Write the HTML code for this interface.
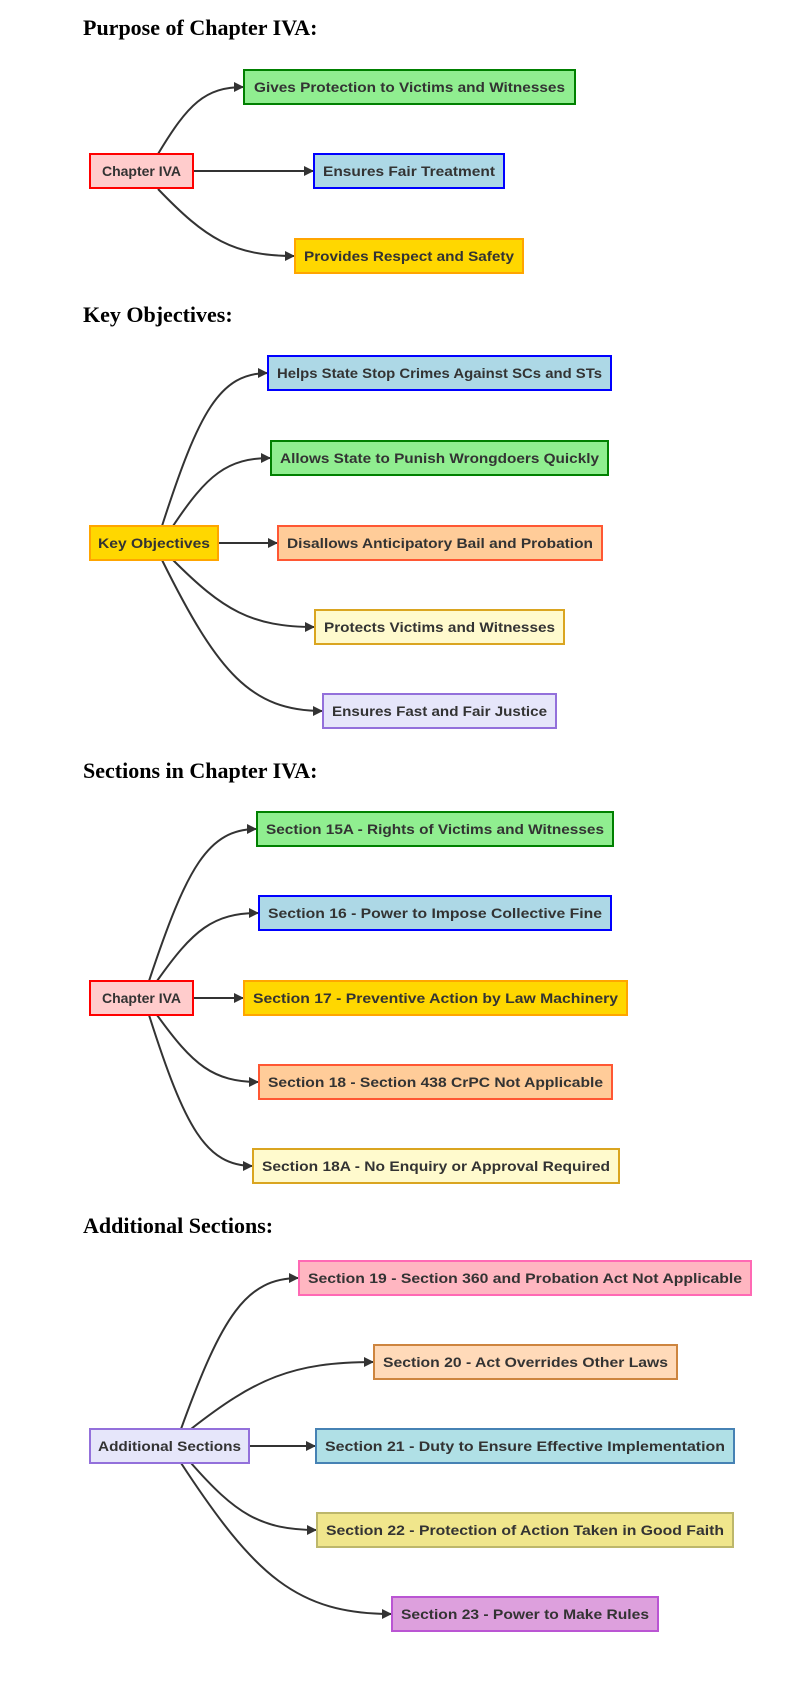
<!DOCTYPE html>
<html><head><meta charset="utf-8"><style>
html,body{margin:0;padding:0;background:#fff;width:796px;height:1685px;overflow:hidden}
svg text.t{font-family:"Liberation Serif",serif;font-weight:bold;font-size:22px;fill:#000}
svg text.n{font-family:"Liberation Sans",sans-serif;font-weight:bold;font-size:14px;fill:#333;text-anchor:middle;dominant-baseline:central}
path.e{fill:none;stroke:#333;stroke-width:2;marker-end:url(#a)}
</style></head><body>
<svg width="796" height="1685" xmlns="http://www.w3.org/2000/svg">
<defs><marker id="a" markerUnits="userSpaceOnUse" markerWidth="10" markerHeight="10" refX="10" refY="5" orient="auto"><path d="M0,0L10,5L0,10z" fill="#333"/></marker></defs>

<text class="t" x="83" y="35">Purpose of Chapter IVA:</text>
<text class="t" x="83" y="322">Key Objectives:</text>
<text class="t" x="83" y="778">Sections in Chapter IVA:</text>
<text class="t" x="83" y="1233">Additional Sections:</text>

<!-- edges -->
<path class="e" d="M158,154 C188,104 205,87 244,87"/>
<path class="e" d="M194,171 L314,171"/>
<path class="e" d="M158,189 C206,239 233,256 295,256"/>

<path class="e" d="M162,526 C199,411 220,373 268,373"/>
<path class="e" d="M173,526 C207,475 227,458 271,458"/>
<path class="e" d="M218,543 L278,543"/>
<path class="e" d="M173,560 C223,610 251,627 315,627"/>
<path class="e" d="M162,560 C218,673 251,711 323,711"/>

<path class="e" d="M149,981 C187,867 208,829 257,829"/>
<path class="e" d="M157,981 C193,930 213,913 259,913"/>
<path class="e" d="M193,998 L244,998"/>
<path class="e" d="M157,1015 C193,1065 213,1082 259,1082"/>
<path class="e" d="M149,1015 C185,1128 206,1166 253,1166"/>

<path class="e" d="M181,1429 C222,1316 246,1278 299,1278"/>
<path class="e" d="M191,1429 C255,1379 292,1362 374,1362"/>
<path class="e" d="M249,1446 L316,1446"/>
<path class="e" d="M191,1463 C235,1513 260,1530 317,1530"/>
<path class="e" d="M181,1463 C255,1576 297,1614 392,1614"/>

<!-- section 1 -->
<rect x="90" y="154" width="103" height="34" fill="#FFCCCC" stroke="#FF0000" stroke-width="2"/><text class="n" x="141.5" y="171">Chapter IVA</text>
<rect x="244" y="70" width="331" height="34" fill="#90EE90" stroke="#008000" stroke-width="2"/><text class="n" x="409.5" y="87" textLength="311" lengthAdjust="spacingAndGlyphs">Gives Protection to Victims and Witnesses</text>
<rect x="314" y="154" width="190" height="34" fill="#ADD8E6" stroke="#0000FF" stroke-width="2"/><text class="n" x="409" y="171" textLength="172" lengthAdjust="spacingAndGlyphs">Ensures Fair Treatment</text>
<rect x="295" y="239" width="228" height="34" fill="#FFD700" stroke="#FFA500" stroke-width="2"/><text class="n" x="409" y="256" textLength="210" lengthAdjust="spacingAndGlyphs">Provides Respect and Safety</text>

<!-- section 2 -->
<rect x="90" y="526" width="128" height="34" fill="#FFD700" stroke="#FFA500" stroke-width="2"/><text class="n" x="154" y="543" textLength="112" lengthAdjust="spacingAndGlyphs">Key Objectives</text>
<rect x="268" y="356" width="343" height="34" fill="#ADD8E6" stroke="#0000FF" stroke-width="2"/><text class="n" x="439.5" y="373" textLength="325" lengthAdjust="spacingAndGlyphs">Helps State Stop Crimes Against SCs and STs</text>
<rect x="271" y="441" width="337" height="34" fill="#90EE90" stroke="#008000" stroke-width="2"/><text class="n" x="439.5" y="458" textLength="319" lengthAdjust="spacingAndGlyphs">Allows State to Punish Wrongdoers Quickly</text>
<rect x="278" y="526" width="324" height="34" fill="#FFCC99" stroke="#FF5733" stroke-width="2"/><text class="n" x="440" y="543" textLength="306" lengthAdjust="spacingAndGlyphs">Disallows Anticipatory Bail and Probation</text>
<rect x="315" y="610" width="249" height="34" fill="#FFFACD" stroke="#DAA520" stroke-width="2"/><text class="n" x="439.5" y="627" textLength="231" lengthAdjust="spacingAndGlyphs">Protects Victims and Witnesses</text>
<rect x="323" y="694" width="233" height="34" fill="#E6E6FA" stroke="#9370DB" stroke-width="2"/><text class="n" x="439.5" y="711" textLength="215" lengthAdjust="spacingAndGlyphs">Ensures Fast and Fair Justice</text>

<!-- section 3 -->
<rect x="90" y="981" width="103" height="34" fill="#FFCCCC" stroke="#FF0000" stroke-width="2"/><text class="n" x="141.5" y="998">Chapter IVA</text>
<rect x="257" y="812" width="356" height="34" fill="#90EE90" stroke="#008000" stroke-width="2"/><text class="n" x="435" y="829" textLength="338" lengthAdjust="spacingAndGlyphs">Section 15A - Rights of Victims and Witnesses</text>
<rect x="259" y="896" width="352" height="34" fill="#ADD8E6" stroke="#0000FF" stroke-width="2"/><text class="n" x="435" y="913" textLength="334" lengthAdjust="spacingAndGlyphs">Section 16 - Power to Impose Collective Fine</text>
<rect x="244" y="981" width="383" height="34" fill="#FFD700" stroke="#FFA500" stroke-width="2"/><text class="n" x="435.5" y="998" textLength="365" lengthAdjust="spacingAndGlyphs">Section 17 - Preventive Action by Law Machinery</text>
<rect x="259" y="1065" width="353" height="34" fill="#FFCC99" stroke="#FF5733" stroke-width="2"/><text class="n" x="435.5" y="1082" textLength="335" lengthAdjust="spacingAndGlyphs">Section 18 - Section 438 CrPC Not Applicable</text>
<rect x="253" y="1149" width="366" height="34" fill="#FFFACD" stroke="#DAA520" stroke-width="2"/><text class="n" x="436" y="1166" textLength="348" lengthAdjust="spacingAndGlyphs">Section 18A - No Enquiry or Approval Required</text>

<!-- section 4 -->
<rect x="90" y="1429" width="159" height="34" fill="#E6E6FA" stroke="#9370DB" stroke-width="2"/><text class="n" x="169.5" y="1446" textLength="143" lengthAdjust="spacingAndGlyphs">Additional Sections</text>
<rect x="299" y="1261" width="452" height="34" fill="#FFB6C1" stroke="#FF69B4" stroke-width="2"/><text class="n" x="525" y="1278" textLength="434" lengthAdjust="spacingAndGlyphs">Section 19 - Section 360 and Probation Act Not Applicable</text>
<rect x="374" y="1345" width="303" height="34" fill="#FFDAB9" stroke="#CD853F" stroke-width="2"/><text class="n" x="525.5" y="1362" textLength="285" lengthAdjust="spacingAndGlyphs">Section 20 - Act Overrides Other Laws</text>
<rect x="316" y="1429" width="418" height="34" fill="#B0E0E6" stroke="#4682B4" stroke-width="2"/><text class="n" x="525" y="1446" textLength="400" lengthAdjust="spacingAndGlyphs">Section 21 - Duty to Ensure Effective Implementation</text>
<rect x="317" y="1513" width="416" height="34" fill="#F0E68C" stroke="#BDB76B" stroke-width="2"/><text class="n" x="525" y="1530" textLength="398" lengthAdjust="spacingAndGlyphs">Section 22 - Protection of Action Taken in Good Faith</text>
<rect x="392" y="1597" width="266" height="34" fill="#DDA0DD" stroke="#BA55D3" stroke-width="2"/><text class="n" x="525" y="1614" textLength="248" lengthAdjust="spacingAndGlyphs">Section 23 - Power to Make Rules</text>
</svg>
</body></html>
